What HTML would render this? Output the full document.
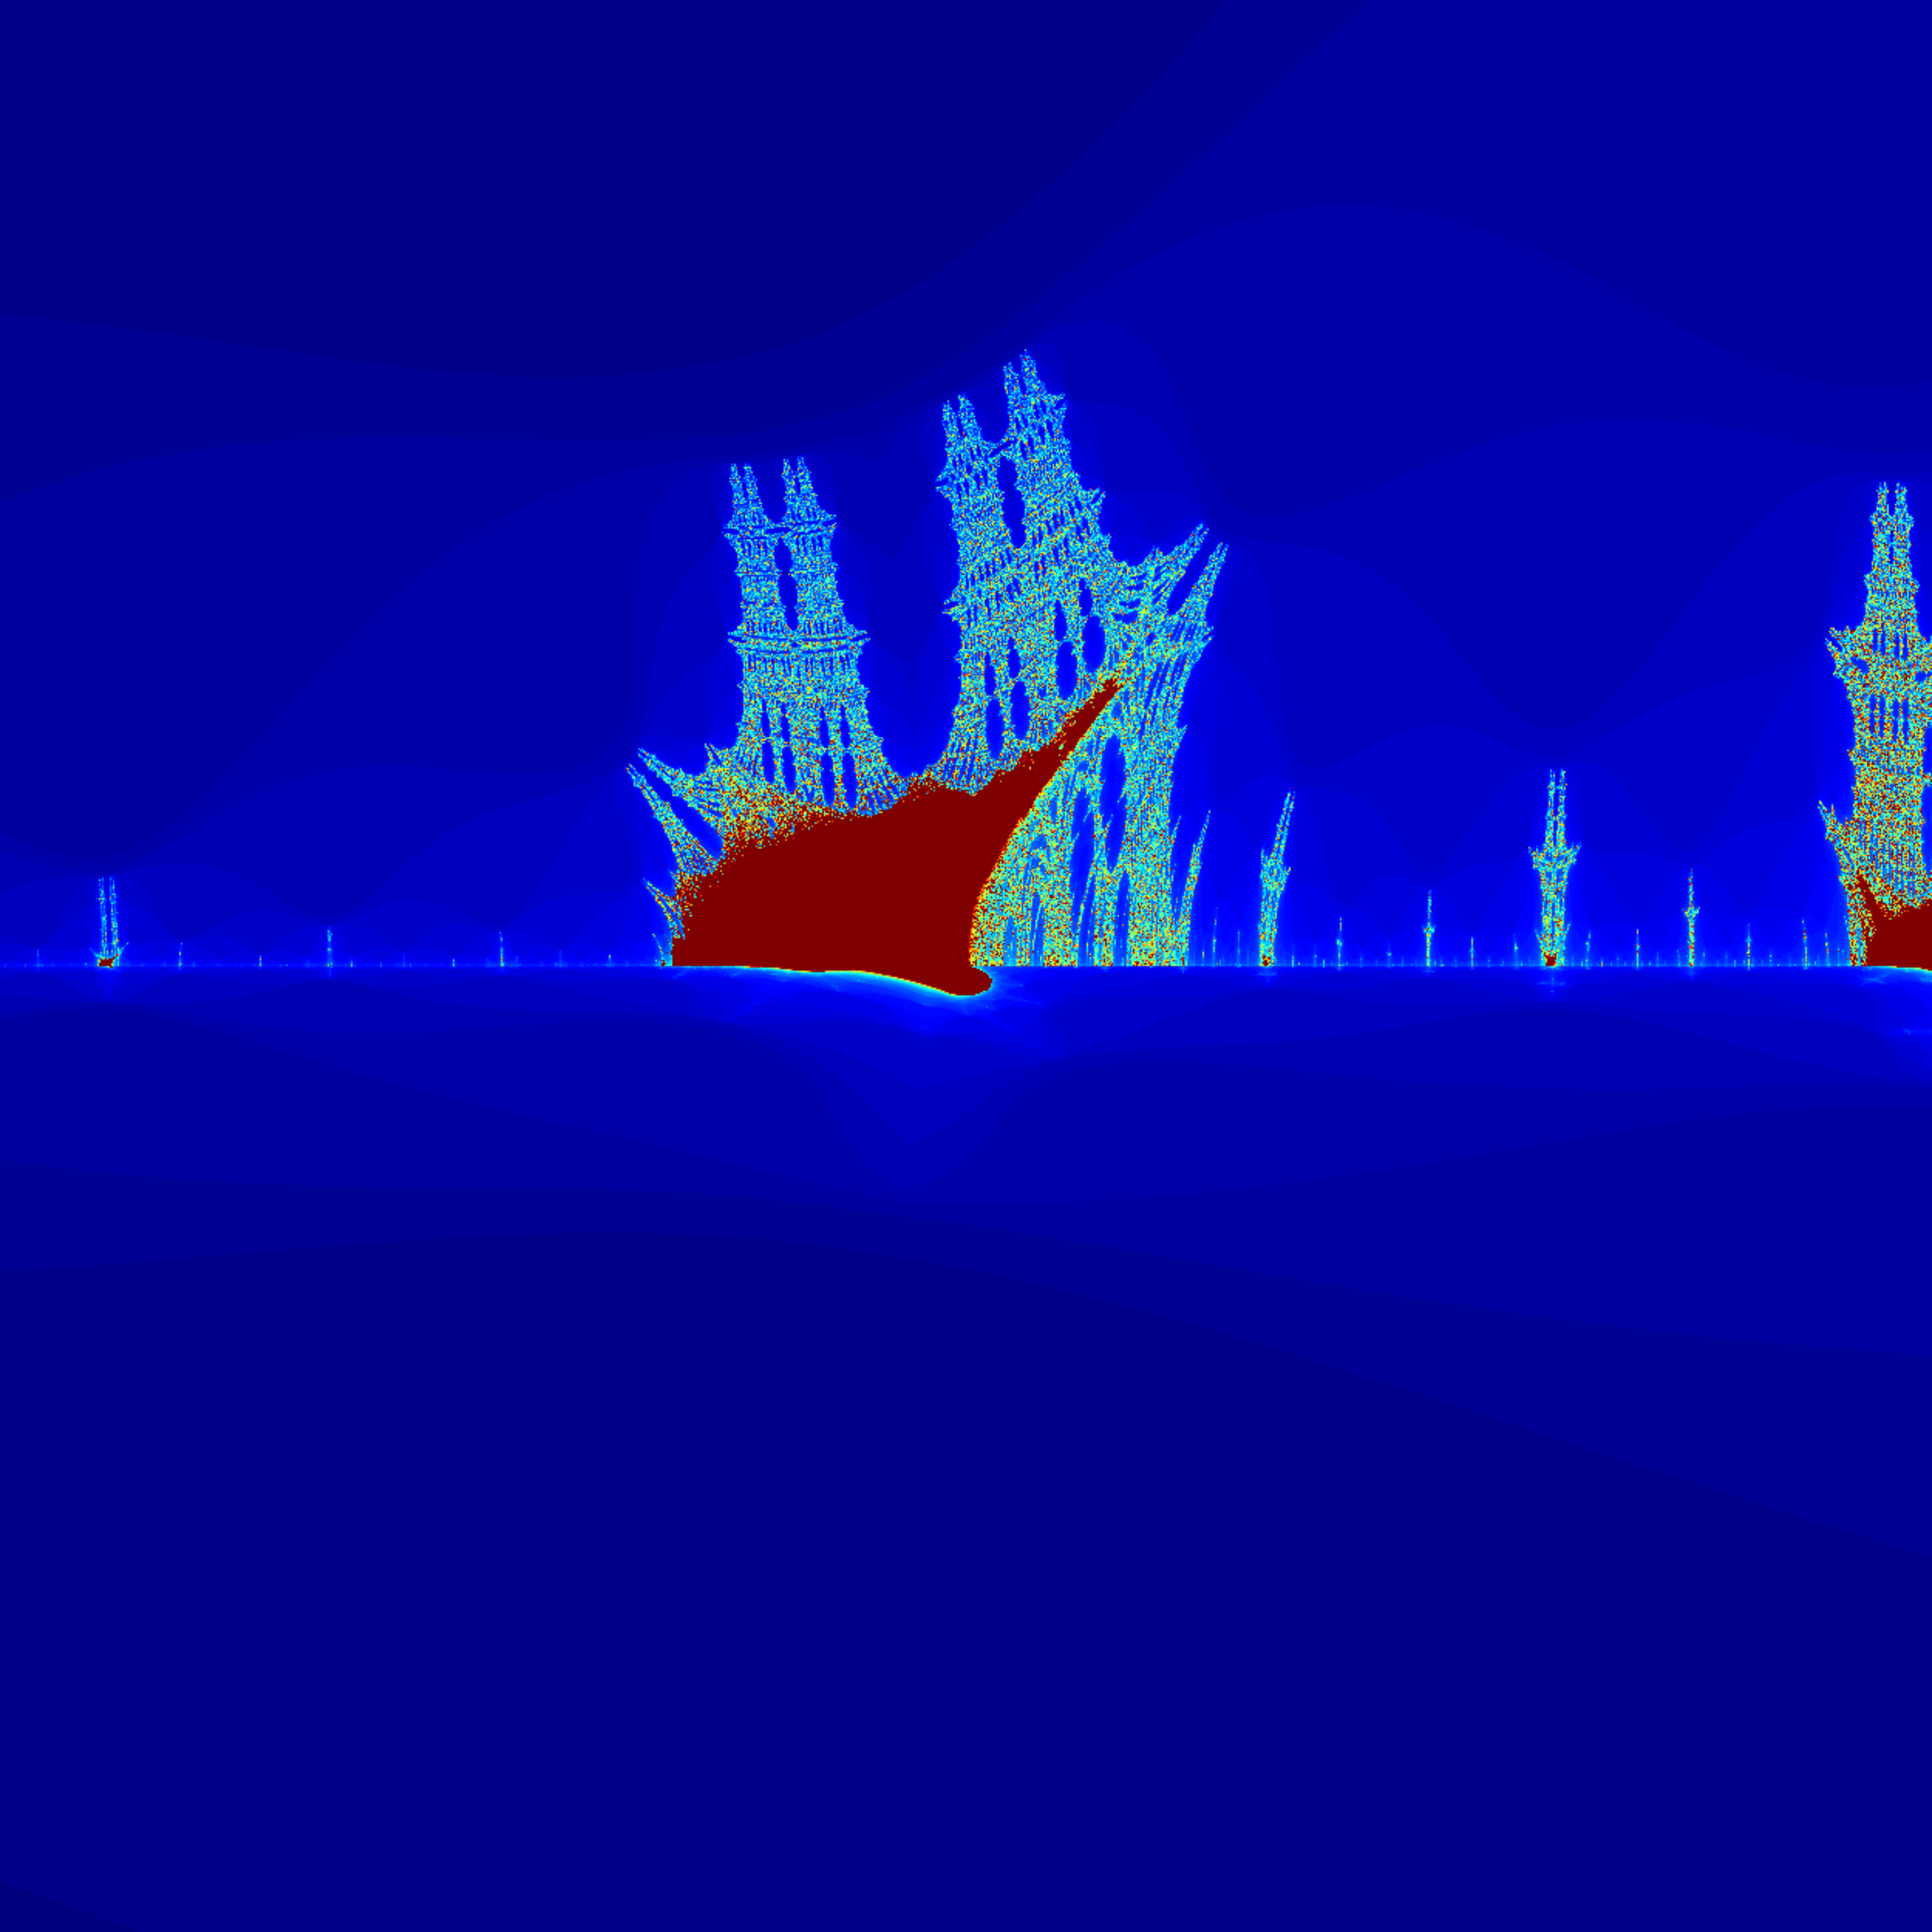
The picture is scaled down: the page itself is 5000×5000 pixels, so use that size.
<!DOCTYPE html>
<html>
<head>
<meta charset="utf-8">
<style>
  html,body{margin:0;padding:0;background:#000080;overflow:hidden;}
  #chart{position:absolute;left:0;top:0;width:5000px;height:5000px;}
  canvas{display:block;width:5000px;height:5000px;}
</style>
</head>
<body>
<div id="chart">
  <canvas id="heat" width="1250" height="1250"></canvas>
</div>
<script>
// View parameters (complex plane window)
const viewCenter = [-1.75, 0.0];
const viewWidth = [0.25];
const maxIterations = [100];
const escapeRadius = [4];
// jet colormap stops
const cmapPos = [0, 0.125, 0.375, 0.625, 0.875, 1];
const cmapR = [0, 0, 0, 1, 1, 0.5];
const cmapG = [0, 0, 1, 1, 0, 0];
const cmapB = [0.5, 1, 1, 0, 0, 0];

function jet(v){
  if(v<=0) return [0,0,0.5];
  if(v>=1) return [0.5,0,0];
  let i=0; while(i<cmapPos.length-2 && v>cmapPos[i+1]) i++;
  const t=(v-cmapPos[i])/(cmapPos[i+1]-cmapPos[i]);
  return [cmapR[i]+(cmapR[i+1]-cmapR[i])*t, cmapG[i]+(cmapG[i+1]-cmapG[i])*t, cmapB[i]+(cmapB[i+1]-cmapB[i])*t];
}

(function(){
  const cv=document.getElementById('heat');
  const ctx=cv.getContext('2d');
  const W=cv.width,H=cv.height;
  const img=ctx.createImageData(W,H);
  const d=img.data;
  const wid=viewWidth[0], maxIt=maxIterations[0], R=escapeRadius[0];
  const x0=viewCenter[0]-wid/2, y0=viewCenter[1]-wid/2;
  const counts=new Uint16Array(W*H);
  let nmin=maxIt;
  for(let py=0;py<H;py++){
    const cy=y0+(py+0.5)/H*wid; // top = negative imaginary (ship upright)
    for(let px=0;px<W;px++){
      const cx=x0+(px+0.5)/W*wid;
      let x=0,y=0,n=0;
      while(n<maxIt){
        const ax=Math.abs(x), ay=Math.abs(y);
        const nx=ax*ax-ay*ay+cx;
        y=2*ax*ay+cy; x=nx;
        if(x*x+y*y>R) break;
        n++;
      }
      counts[py*W+px]=n;
      if(n<nmin) nmin=n;
    }
  }
  const lut=[];
  for(let k=0;k<=maxIt;k++){const c=jet((k-nmin)/(maxIt-nmin));lut.push([c[0]*255|0,c[1]*255|0,c[2]*255|0]);}
  for(let i=0;i<W*H;i++){
    const c=lut[counts[i]], o=i*4;
    d[o]=c[0];d[o+1]=c[1];d[o+2]=c[2];d[o+3]=255;
  }
  ctx.putImageData(img,0,0);
})();
</script>
</body>
</html>
